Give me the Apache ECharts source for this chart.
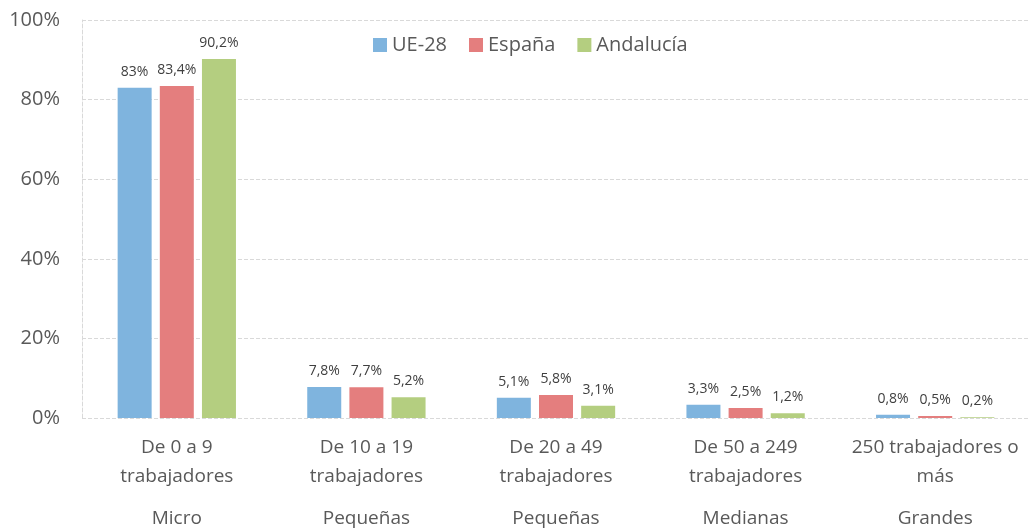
<!DOCTYPE html>
<html>
<head>
<meta charset="utf-8">
<script src="https://cdn.jsdelivr.net/npm/echarts@6/dist/echarts.min.js"></script>
<style>
  html, body { margin: 0; padding: 0; background: #fff; }
  #chart { width: 1032px; height: 529px; }
</style>
</head>
<body>
<div id="chart"></div>
<script>
const categories = ['De 0 a 9\ntrabajadores', 'De 10 a 19\ntrabajadores', 'De 20 a 49\ntrabajadores', 'De 50 a 249\ntrabajadores', '250 trabajadores o\nmás'];
const groups = ['Micro', 'Pequeñas', 'Pequeñas', 'Medianas', 'Grandes'];
const ue28 = [83, 7.8, 5.1, 3.3, 0.8];
const espana = [83.4, 7.7, 5.8, 2.5, 0.5];
const andalucia = [90.2, 5.2, 3.1, 1.2, 0.2];

const fontFamily = '"Open Sans", sans-serif';
const pct = v => String(v).replace('.', ',') + '%';

const chart = echarts.init(document.getElementById('chart'));

function barSeries(name, data, color) {
  return {
    name: name,
    type: 'bar',
    data: data,
    barWidth: 34,
    barGap: '24%',
    itemStyle: { color: color },
    label: {
      show: true,
      position: 'top',
      distance: 9,
      color: '#404040',
      fontSize: 14,
      fontFamily: fontFamily,
      formatter: p => pct(p.value)
    }
  };
}

chart.setOption({
  animation: false,
  textStyle: { fontFamily: fontFamily },
  legend: {
    top: 30,
    left: 368,
    itemWidth: 14,
    itemHeight: 14,
    itemGap: 22,
    itemTextGap: 6,
    icon: 'rect',
    textStyle: { fontSize: 20, color: '#595959', fontFamily: fontFamily }
  },
  grid: { left: 82, right: 2, top: 20, bottom: 111, outerBoundsMode: 'none' },
  xAxis: [
    {
      type: 'category',
      data: categories,
      axisLine: { show: false },
      axisTick: { show: false },
      axisLabel: {
        interval: 0,
        margin: 15,
        fontSize: 19,
        lineHeight: 29,
        color: '#595959',
        fontFamily: fontFamily
      }
    },
    {
      type: 'category',
      data: groups,
      position: 'bottom',
      offset: 83,
      axisLine: { show: false },
      axisTick: { show: false },
      axisLabel: {
        interval: 0,
        fontSize: 19,
        color: '#595959',
        fontFamily: fontFamily
      }
    }
  ],
  yAxis: {
    type: 'value',
    min: 0,
    max: 100,
    interval: 20,
    axisLine: { show: true, lineStyle: { color: '#d9d9d9', type: 'dashed' } },
    axisTick: { show: false },
    axisLabel: {
      formatter: '{value}%',
      fontSize: 20,
      margin: 22,
      color: '#595959',
      fontFamily: fontFamily
    },
    splitLine: { lineStyle: { color: '#d9d9d9', type: 'dashed' } }
  },
  series: [
    barSeries('UE-28', ue28, '#7fb4de'),
    barSeries('España', espana, '#e47e7e'),
    barSeries('Andalucía', andalucia, '#b4ce80')
  ]
});
</script>
</body>
</html>
